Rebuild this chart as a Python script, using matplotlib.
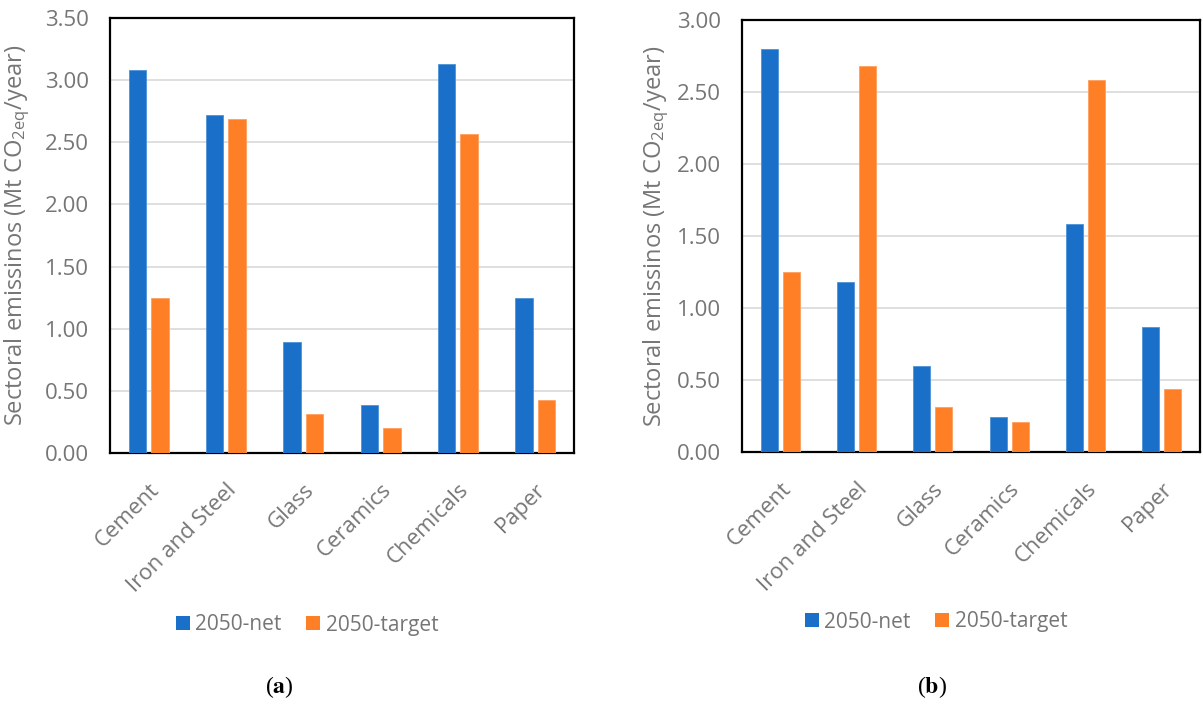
import matplotlib
matplotlib.use("Agg")
import matplotlib.pyplot as plt
from matplotlib.patches import Patch
import numpy as np

plt.rcParams['font.family'] = ['Open Sans', 'DejaVu Sans']
plt.rcParams['mathtext.fontset'] = 'custom'
plt.rcParams['mathtext.rm'] = 'Open Sans'
plt.rcParams['mathtext.default'] = 'regular'

sectors = ['Cement', 'Iron and Steel', 'Glass', 'Ceramics', 'Chemicals', 'Paper']
series = ['2050-net', '2050-target']

# panel (a)
net_a = [3.08, 2.72, 0.89, 0.39, 3.13, 1.25]
target_a = [1.25, 2.69, 0.31, 0.20, 2.57, 0.43]
# panel (b)
net_b = [2.80, 1.18, 0.60, 0.24, 1.58, 0.87]
target_b = [1.25, 2.68, 0.31, 0.21, 2.58, 0.44]

BLUE = '#1a70c8'
ORANGE = '#ff7f27'
GRAY = '#767676'
ylabel = 'Sectoral emissinos (Mt CO$_{2eq}$/year)'

fig = plt.figure(figsize=(12.03, 7.04), dpi=100)
ax_a = fig.add_axes([0.0914, 0.3565, 0.3857, 0.6179])
ax_b = fig.add_axes([0.6168, 0.358, 0.3807, 0.6136])


def draw_panel(ax, net, target, ymax, label_x):
    x = np.arange(len(sectors))
    w = 0.225
    ax.bar(x - 0.145, net, w, color=BLUE, edgecolor='#4d92d8', linewidth=0.6, zorder=3)
    ax.bar(x + 0.145, target, w, color=ORANGE, edgecolor='#ffa05e', linewidth=0.6, zorder=3)
    ax.set_xlim(-0.5, len(sectors) - 0.5)
    ax.set_ylim(0, ymax)
    ax.set_yticks(np.arange(0, ymax + 0.01, 0.5))
    ax.set_yticklabels(['%.2f' % v for v in np.arange(0, ymax + 0.01, 0.5)])
    ax.yaxis.grid(True, color='#d9d9d9', linewidth=1.2, zorder=0)
    ax.set_axisbelow(True)
    ax.set_xticks(x)
    ax.set_xticklabels(sectors, rotation=45, ha='right', va='top',
                       rotation_mode='anchor')
    ax.tick_params(axis='both', length=0, labelsize=16, labelcolor=GRAY)
    ax.tick_params(axis='y', pad=15)
    ax.tick_params(axis='x', pad=19)
    for s in ax.spines.values():
        s.set_color('black')
        s.set_linewidth(1.6)
    ax.set_ylabel(ylabel, fontsize=17, color=GRAY)
    ax.yaxis.set_label_coords(label_x, 0.5)


draw_panel(ax_a, net_a, target_a, 3.5, -0.168)
draw_panel(ax_b, net_b, target_b, 3.0, -0.155)

handles = [Patch(facecolor=BLUE, label=series[0]),
           Patch(facecolor=ORANGE, label=series[1])]
for cx, cy in [(307 / 1203, 1 - 625 / 704), (936 / 1203, 1 - 622 / 704)]:
    fig.legend(handles=handles, loc='center', bbox_to_anchor=(cx, cy), ncol=2,
               frameon=False, fontsize=15, labelcolor=GRAY, handlelength=0.67,
               handleheight=0.67, handletextpad=0.25, columnspacing=1.2,
               borderpad=0)

fig.text(279 / 1203, 1 - 687 / 704, r'($\mathbf{a}$)', ha='center', va='center',
         fontsize=17, family='Liberation Serif', math_fontfamily='stix')
fig.text(932 / 1203, 1 - 687 / 704, r'($\mathbf{b}$)', ha='center', va='center',
         fontsize=17, family='Liberation Serif', math_fontfamily='stix')

fig.savefig('out.png', dpi=100)
